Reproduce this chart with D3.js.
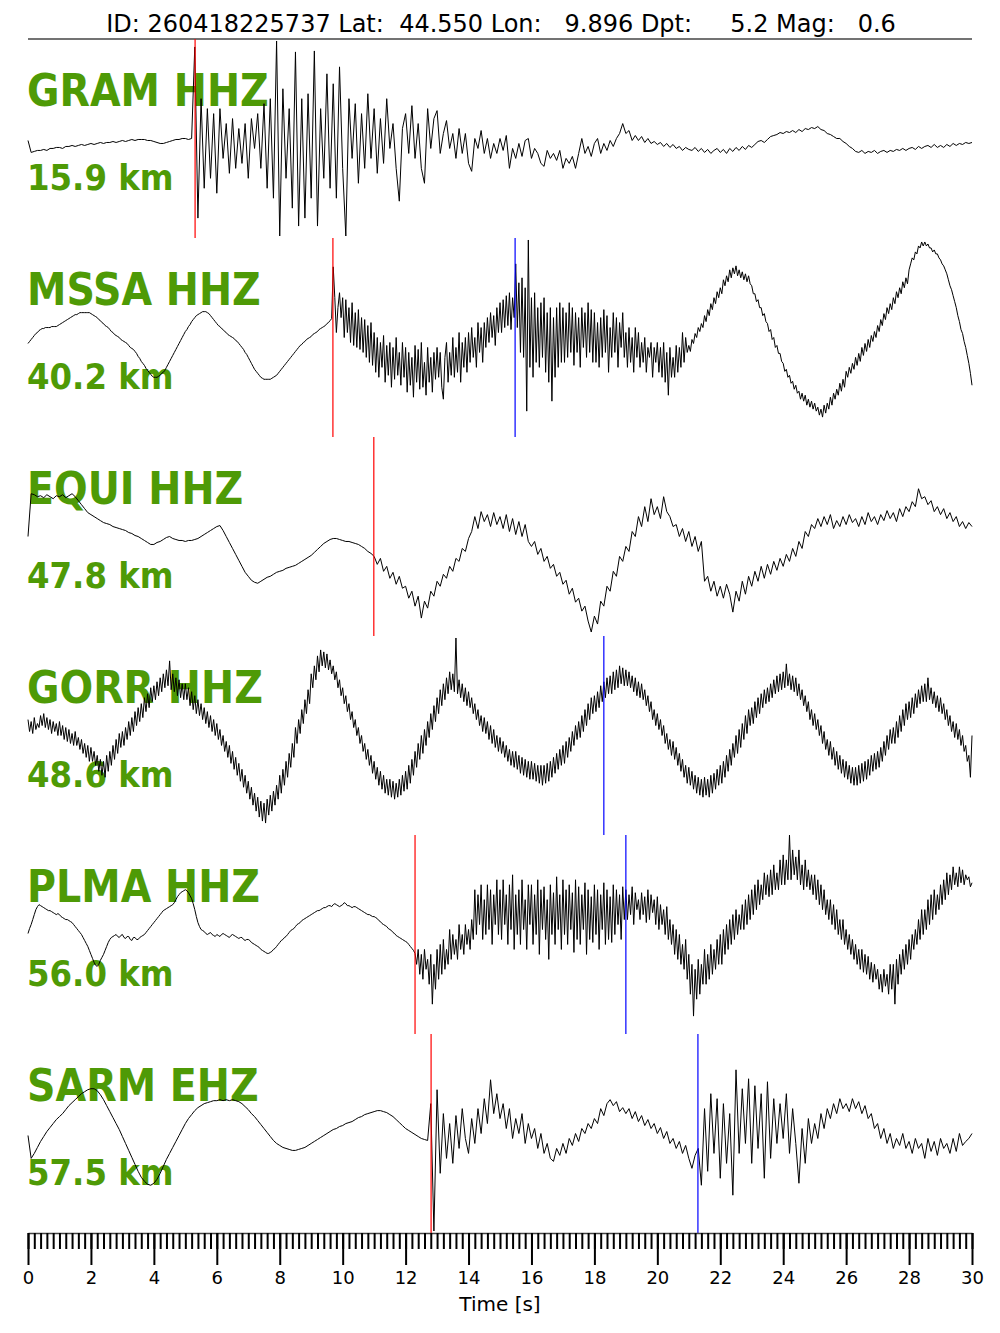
<!DOCTYPE html>
<html>
<head>
<meta charset="utf-8">
<script src="https://cdn.jsdelivr.net/npm/d3@7"></script>
<style>
body { margin: 0; background: #fff; }
text { font-family: 'DejaVu Sans', sans-serif; }
</style>
</head>
<body>
<svg id="main"></svg>
<script>
// event header
let title = 'ID: 260418225737 Lat:  44.550 Lon:   9.896 Dpt:     5.2 Mag:   0.6'

let stations = ['GRAM HHZ', 'MSSA HHZ', 'EQUI HHZ', 'GORR HHZ', 'PLMA HHZ', 'SARM EHZ']
let distances = ['15.9 km', '40.2 km', '47.8 km', '48.6 km', '56.0 km', '57.5 km']

// picks in seconds (null = no pick)
let pPicks = [5.31, 9.69, 10.99, null, 12.30, 12.81]
let sPicks = [null, 15.48, null, 18.30, 19.00, 21.29]

let majorTicks = [0, 2, 4, 6, 8, 10, 12, 14, 16, 18, 20, 22, 24, 26, 28, 30]

// normalised amplitudes (-100..100) read off the plot, evenly sampled over 0-30 s
// (0.1 s for gram/equi/sarm, 0.05 s for the noisier mssa/gorr/plma)
let gram = [-2,-14,-13,-12,-12,-11,-12,-10,-10,-9,
-9,-10,-8,-8,-7,-8,-7,-6,-7,-6,
-5,-6,-5,-4,-5,-4,-4,-3,-4,-3,
-2,-3,-2,-1,-2,-1,-1,-1,-2,-2,
-3,-4,-5,-5,-4,-3,-2,-1,-1,0,
0,-1,0,92,-80,40,-50,30,-40,25,
-55,30,-20,15,-35,20,-30,10,-25,15,
-40,20,-10,25,-30,35,-50,40,-60,98,
-98,50,-40,30,-70,87,-88,40,-80,45,
-60,88,-88,30,-40,65,-50,55,-60,72,
-30,-98,40,-20,35,-45,25,-30,45,-20,
30,-35,20,-25,40,-10,15,-30,-63,10,
25,-15,33,-20,15,-30,-45,30,-10,20,
28,-15,5,18,-10,5,-20,10,-15,5,
-25,-33,0,-10,8,-15,0,-20,-5,-15,
0,-12,3,-30,-10,-20,-5,-18,-2,0,
-20,-10,-15,-25,-28,-12,-20,-15,-22,-12,
-30,-20,-25,-18,-30,-15,0,-15,-8,-18,
-5,0,-15,-5,-12,-2,-8,0,5,15,
5,8,-2,3,-2,2,-4,0,-5,-3,
-6,-4,-8,-5,-9,-6,-10,-8,-12,-9,
-11,-12,-9,-13,-10,-14,-11,-15,-12,-10,
-14,-11,-15,-10,-13,-9,-12,-8,-11,-7,
-9,-6,-3,-2,-4,-1,2,3,4,6,
5,7,6,8,6,9,7,10,9,11,
10,12,9,8,5,4,2,0,0,-3,
-5,-8,-10,-13,-14,-12,-15,-13,-14,-12,
-15,-13,-12,-14,-12,-13,-11,-12,-10,-12,
-10,-9,-11,-8,-10,-8,-7,-9,-6,-9,
-7,-9,-6,-8,-5,-7,-5,-6,-4,-5,
-4]
let mssa = [-6,-4,-2,0,2,4,5,7,8,9,
9,10,10,10,10,11,11,11,11,12,
13,14,15,16,17,18,19,20,21,22,
23,23,24,25,25,25,25,25,25,25,
24,23,22,21,20,18,17,15,14,12,
11,10,8,6,5,3,2,1,0,-2,
-3,-4,-5,-6,-8,-10,-11,-12,-14,-16,
-19,-21,-24,-26,-28,-31,-33,-35,-37,-39,
-40,-40,-40,-39,-38,-36,-35,-33,-30,-27,
-24,-21,-18,-15,-12,-9,-6,-3,0,3,
6,8,11,13,16,18,20,22,23,24,
25,26,26,26,25,24,22,20,18,16,
14,12,11,9,8,6,5,3,2,1,
0,-1,-3,-4,-6,-8,-10,-12,-15,-17,
-20,-23,-26,-29,-32,-34,-36,-38,-40,-41,
-42,-42,-42,-42,-42,-41,-40,-39,-38,-36,
-34,-32,-30,-28,-26,-24,-22,-20,-18,-16,
-14,-12,-10,-8,-7,-5,-4,-2,-1,0,
1,3,4,5,6,8,9,10,11,12,
14,15,17,19,71,40,5,30,45,20,
40,0,38,5,30,-5,35,-8,25,-10,
28,-12,20,-15,18,-20,12,-25,15,-28,
5,-35,0,-40,-5,-30,2,-45,-8,-38,
-5,-50,-10,-42,0,-38,-15,-48,-5,-40,
-10,-55,-15,-48,-20,-60,-8,-45,-12,-52,
-5,-50,-25,-58,-10,-45,-20,-55,-15,-42,
-10,-40,-15,-50,-62,-20,-5,-45,-15,-38,
0,-40,-10,-35,5,-45,-5,-30,0,-35,
5,-25,10,-20,0,-30,15,-15,10,-25,
15,-10,20,-5,25,0,22,-8,30,5,
35,5,38,10,42,12,45,8,40,20,
74,10,55,-15,60,-20,50,-74,98,-30,
40,-40,45,-25,30,-30,35,-20,40,-35,
25,-45,30,-64,20,-40,30,-30,35,-25,
30,-25,25,-20,35,-15,30,-28,25,-15,
20,-30,30,-10,25,-20,35,-15,28,-25,
25,-25,15,-30,20,-20,28,-15,22,-35,
10,-20,25,-15,20,-30,15,-10,25,-20,
5,-30,10,-25,0,-35,10,-20,5,-30,
-5,-25,0,-35,-10,-20,-5,-40,-10,-25,
-5,-35,-10,-40,-5,-45,-15,-58,-10,-40,
-20,-40,-8,-35,-10,-30,5,-25,0,-15,
-8,-14,-2,-6,4,0,10,6,14,10,
22,16,28,22,34,28,40,34,46,40,
50,44,58,52,62,56,68,60,70,64,
72,62,68,60,66,58,64,56,62,54,
52,44,44,36,38,30,30,22,24,16,
14,6,8,-2,0,-10,-8,-16,-16,-24,
-26,-34,-32,-40,-38,-46,-44,-52,-48,-56,
-54,-62,-56,-64,-58,-68,-62,-70,-64,-72,
-66,-74,-70,-78,-72,-80,-68,-76,-66,-72,
-60,-68,-56,-62,-52,-58,-46,-54,-42,-50,
-34,-40,-30,-36,-26,-32,-20,-28,-16,-24,
-10,-18,-6,-14,-2,-10,2,-4,6,0,
12,6,18,12,24,18,30,24,34,28,
40,34,46,40,50,44,56,50,60,54,
68,74,80,78,86,84,92,90,96,92,
96,92,94,90,90,86,88,84,84,80,
78,74,72,68,64,58,52,48,42,36,
30,22,16,8,4,-4,-10,-18,-26,-36,
-48]
let equi = [0,43,42,40,41,39,42,40,38,41,
40,42,39,41,43,40,36,32,28,24,
22,20,18,16,14,13,12,10,9,8,
7,6,4,3,1,0,-2,-4,-6,-8,
-8,-6,-5,-3,-1,0,-2,-3,-4,-4,
-5,-4,-4,-3,-2,0,2,4,6,8,
10,11,6,0,-6,-12,-18,-24,-30,-36,
-40,-44,-46,-47,-45,-43,-41,-40,-38,-36,
-35,-34,-32,-31,-30,-29,-27,-25,-23,-21,
-19,-16,-13,-10,-7,-5,-3,-2,-2,-3,
-4,-5,-5,-6,-7,-8,-10,-12,-15,-17,
-20,-28,-22,-35,-30,-42,-36,-48,-40,-52,
-50,-62,-55,-70,-60,-82,-65,-72,-55,-60,
-45,-50,-38,-42,-30,-35,-22,-25,-12,-15,
-2,5,20,8,25,15,22,10,24,12,
20,8,22,5,18,2,15,0,12,-5,
-10,-5,-18,-12,-25,-20,-32,-28,-40,-36,
-48,-44,-58,-52,-66,-62,-75,-70,-85,-96,
-80,-88,-65,-70,-50,-55,-35,-40,-20,-25,
-10,-15,5,0,20,10,30,15,38,22,
30,18,40,25,20,10,12,0,8,-5,
5,-10,0,-15,-5,-45,-40,-55,-45,-60,
-50,-62,-48,-58,-76,-55,-65,-45,-58,-40,
-50,-35,-45,-30,-42,-28,-38,-25,-34,-22,
-30,-18,-25,-12,-20,-5,-12,5,0,12,
8,18,10,20,12,22,8,16,10,20,
12,22,14,18,10,20,12,24,15,20,
12,22,16,26,18,24,15,28,20,30,
25,35,30,48,38,40,32,36,25,30,
22,28,18,24,15,20,10,15,8,14,
10]
let gorr = [16,4,14,2,18,6,12,8,20,10,
22,8,18,6,16,2,14,4,12,0,
14,0,10,-4,8,-6,6,-8,2,-10,
4,-10,-2,-14,-4,-18,-8,-22,-10,-26,
-12,-26,-16,-30,-20,-36,-24,-40,-26,-42,
-20,-36,-16,-30,-10,-24,-4,-18,2,-12,
4,-10,8,-4,14,0,18,4,24,10,
28,14,32,18,38,24,42,28,48,34,
50,36,54,40,58,44,62,48,66,50,
75,46,62,44,58,40,56,38,52,36,
52,36,48,30,44,26,40,22,36,20,
32,16,28,12,24,8,20,4,16,0,
12,-4,6,-10,0,-16,-6,-22,-10,-28,
-16,-34,-22,-40,-28,-46,-34,-52,-40,-58,
-46,-64,-52,-70,-58,-76,-62,-82,-66,-86,
-68,-88,-64,-80,-60,-76,-56,-70,-50,-64,
-40,-58,-34,-50,-26,-42,-18,-32,-8,-22,
8,-8,16,2,26,12,36,22,46,32,
62,48,70,56,80,64,86,70,84,68,
82,66,76,62,70,56,64,48,56,40,
48,32,40,24,32,16,24,8,16,0,
8,-8,0,-16,-8,-24,-14,-30,-20,-38,
-26,-44,-32,-50,-36,-54,-40,-58,-44,-60,
-44,-62,-46,-64,-48,-62,-44,-60,-40,-56,
-36,-54,-30,-48,-24,-40,-16,-32,-8,-24,
0,-18,6,-10,14,-2,22,6,30,14,
38,22,46,30,52,36,58,42,64,46,
62,44,98,42,56,38,52,34,48,30,
44,28,38,22,32,16,26,10,20,4,
18,2,14,-4,10,-8,6,-12,0,-16,
-2,-18,-6,-22,-10,-26,-14,-30,-16,-32,
-16,-34,-20,-38,-22,-40,-24,-42,-26,-44,
-26,-44,-28,-46,-30,-48,-30,-50,-30,-48,
-28,-46,-26,-42,-22,-38,-18,-34,-14,-30,
-10,-28,-6,-22,-2,-16,4,-10,10,-4,
14,-2,20,4,26,10,32,16,38,22,
40,24,44,28,50,34,54,38,58,42,
60,42,64,46,66,48,70,52,68,50,
66,50,64,48,60,44,58,40,54,38,
52,36,46,30,40,24,34,16,26,10,
22,6,16,0,10,-8,2,-14,-4,-20,
-6,-24,-12,-30,-18,-36,-24,-42,-30,-48,
-32,-50,-36,-54,-40,-58,-42,-60,-44,-62,
-42,-60,-44,-62,-40,-58,-38,-54,-34,-50,
-30,-48,-26,-42,-20,-36,-14,-30,-8,-22,
0,-18,6,-12,12,-4,20,2,26,10,
28,12,34,18,38,22,42,28,46,32,
48,34,52,38,56,42,60,44,62,46,
64,48,72,50,62,46,60,44,58,40,
52,36,46,30,40,24,34,16,26,10,
22,6,16,0,10,-8,4,-14,-4,-20,
-6,-24,-12,-30,-16,-34,-20,-38,-24,-42,
-26,-44,-30,-48,-32,-50,-32,-50,-30,-48,
-28,-46,-26,-44,-24,-40,-20,-36,-18,-34,
-16,-32,-12,-26,-6,-20,0,-14,6,-8,
8,-8,14,-2,20,4,26,10,32,16,
34,18,38,22,42,28,46,32,50,34,
52,34,58,36,48,32,44,28,40,24,
38,22,32,16,26,10,20,4,14,-2,
12,-4,6,-10,0,-16,-10,-26,-20,-42,
0]
let plma = [1,6,10,15,20,25,28,30,29,28,
27,26,25,24,24,23,22,21,20,21,
20,18,17,16,15,15,14,13,12,10,
8,6,4,2,0,-3,-6,-9,-12,-16,
-20,-24,-28,-31,-32,-30,-26,-23,-20,-16,
-12,-8,-5,-3,-2,-1,0,-2,-3,-1,
0,-3,-4,-2,-2,-5,-6,-3,-3,-5,
-5,-3,-2,-1,0,2,4,6,8,10,
12,14,16,18,20,22,24,25,26,27,
28,29,30,32,35,38,40,42,43,44,
45,44,42,39,36,31,25,18,12,8,
5,4,3,1,0,1,2,0,-1,-2,
0,-1,-2,0,1,0,-1,-2,-3,-1,
0,-1,-2,-3,-4,-3,-3,-5,-6,-5,
-5,-6,-8,-9,-10,-11,-12,-13,-15,-16,
-17,-18,-19,-19,-18,-17,-15,-14,-12,-10,
-8,-6,-5,-3,-2,0,2,4,5,6,
8,10,11,12,14,15,16,17,18,19,
20,21,22,23,24,24,25,26,27,27,
28,29,29,28,30,31,30,29,28,29,
30,32,31,29,29,28,27,28,28,27,
26,25,24,23,22,21,20,20,19,18,
18,17,16,14,13,11,10,9,8,6,
5,4,2,1,-1,-2,-3,-4,-5,-6,
-7,-8,-10,-12,-14,-16,-19,-30,-15,-40,
-20,-45,-15,-35,-25,-50,-20,-70,-30,-55,
-15,-45,-10,-40,-5,-35,-15,-30,5,-25,
0,-20,-5,-25,10,-15,0,-20,10,-10,
5,-15,15,-5,45,0,40,10,50,-5,
35,0,50,5,45,-10,40,10,55,0,
45,-5,55,10,40,-10,50,5,60,-15,
40,0,45,-10,55,5,35,-15,50,10,
50,-10,40,0,55,-20,45,5,48,-5,
35,-25,50,0,42,-10,58,5,40,-15,
55,0,45,-10,50,5,42,-18,55,-5,
48,-10,40,5,52,-20,45,-5,38,-8,
50,0,45,-15,40,5,52,-10,45,-5,
38,-8,50,0,45,10,40,-5,48,15,
45,15,40,20,48,10,42,25,35,15,
42,20,38,12,45,15,40,22,35,10,
38,5,30,10,25,0,28,-5,15,-10,
10,-20,5,-25,0,-30,-10,-35,-5,-45,
-20,-60,-30,-82,-35,-65,-25,-60,-30,-50,
-15,-50,-20,-45,-10,-40,-15,-35,-5,-30,
0,-30,5,-20,10,-15,15,-10,20,-5,
25,0,20,5,30,5,35,10,40,15,
45,20,50,25,55,30,50,35,62,40,
60,38,65,40,70,45,62,45,75,50,
80,50,75,55,100,55,85,60,78,55,
85,50,70,45,75,48,65,45,60,40,
60,35,55,30,50,25,45,20,35,15,
35,10,30,5,25,0,15,-5,15,-10,
5,-15,0,-20,-5,-25,-10,-30,-15,-35,
-15,-38,-20,-40,-22,-45,-28,-48,-30,-45,
-35,-55,-40,-58,-35,-52,-40,-60,-30,-55,
-30,-70,-25,-50,-20,-40,-15,-35,-10,-30,
-5,-25,0,-15,5,-10,15,-5,25,0,
25,5,35,10,40,15,45,20,40,25,
50,30,55,35,62,40,60,45,68,50,
62,48,68,52,65,50,60,55,58,48,
52]
let sarm = [-2,-25,-20,-14,-8,-3,2,6,10,14,
17,20,24,28,31,34,37,40,42,44,
45,45,43,39,34,28,22,16,10,4,
-3,-10,-17,-24,-31,-38,-44,-48,-51,-52,
-50,-46,-40,-33,-26,-20,-14,-8,-2,4,
10,15,19,23,26,28,30,31,32,33,
33,34,33,34,33,34,33,32,30,27,
24,20,17,13,9,5,1,-3,-7,-10,
-12,-14,-15,-16,-17,-17,-16,-15,-14,-12,
-10,-8,-6,-4,-2,0,2,4,5,7,
8,10,11,12,14,16,17,19,20,21,
22,23,23,22,21,19,17,14,11,8,
5,3,1,-1,-3,-5,-6,-7,30,-98,
44,-40,20,-25,10,-30,18,-15,25,-5,
-20,15,-10,25,0,35,10,54,20,40,
15,30,5,25,-5,15,0,20,-10,10,
-5,5,-15,0,-20,-10,-25,-28,-15,-22,
-10,-20,-5,-12,0,-8,5,0,10,5,
15,10,25,18,30,34,28,32,22,26,
20,25,15,22,12,18,8,14,5,10,
0,6,-5,2,-10,-5,-15,-8,-20,-12,
-25,-35,-22,-15,-52,25,-38,40,-20,35,
-45,30,-30,20,-62,64,-20,45,-10,55,
-30,48,-15,40,-45,52,-25,35,-10,30,
-5,40,-20,25,-10,-50,5,-30,15,-10,
10,-5,20,5,25,15,30,20,35,25,
30,22,35,25,32,20,28,15,20,5,
10,-5,5,-10,0,-15,-5,-12,0,-15,
-8,-20,-5,-15,-10,-25,-5,-18,-8,-22,
-5,-15,-10,-20,-5,-18,0,-12,-8,-5,
0]
let traces = [gram, mssa, equi, gorr, plma, sarm]

let width = 1000
let height = 1333
let plotLeft = 28
let plotRight = 972
let plotTop = 39
let plotBottom = 1233
let duration = 30
let green = '#4e9a06'

let svg = d3.select('#main')
    .attr('width', width)
    .attr('height', height)

let xScale = d3.scaleLinear()
    .domain([0, duration])
    .range([plotLeft, plotRight])

let panelScale = d3.scaleBand()
    .domain(stations)
    .range([plotTop, plotBottom])

let yScale = d3.scaleLinear()
    .domain([-100, 100])
    .range([panelScale.bandwidth(), 0])

// header
svg.append('text')
    .attr('x', 501)
    .attr('y', 32)
    .attr('text-anchor', 'middle')
    .attr('font-size', 24)
    .attr('xml:space', 'preserve')
    .style('white-space', 'pre')
    .text(title)

svg.append('line')
    .attr('x1', plotLeft).attr('x2', plotRight)
    .attr('y1', plotTop).attr('y2', plotTop)
    .attr('stroke', '#444')
    .attr('stroke-width', 1.5)

stations.forEach((name, i) => {
    let g = svg.append('g')
        .attr('transform', `translate(0, ${panelScale(name)})`)

    g.append('text')
        .attr('x', plotLeft - 1)
        .attr('y', 67)
        .attr('fill', green)
        .attr('font-size', 44)
        .attr('font-weight', 'bold')
        .style('font-family', "'DejaVu Sans Condensed', 'DejaVu Sans', sans-serif")
        .style('font-stretch', 'condensed')
        .text(name)

    g.append('text')
        .attr('x', plotLeft - 1)
        .attr('y', 151)
        .attr('fill', green)
        .attr('font-size', 36)
        .attr('font-weight', 'bold')
        .style('font-family', "'DejaVu Sans Condensed', 'DejaVu Sans', sans-serif")
        .style('font-stretch', 'condensed')
        .text(distances[i])

    let samples = traces[i]
    let step = duration / (samples.length - 1)
    let line = d3.line()
        .x((d, k) => xScale(k * step))
        .y(d => yScale(d))

    g.append('path')
        .datum(samples)
        .attr('d', line)
        .attr('fill', 'none')
        .attr('stroke', 'black')
        .attr('stroke-width', 1)
        .attr('stroke-linejoin', 'round')

    let picks = [[pPicks[i], 'red'], [sPicks[i], 'blue']].filter(p => p[0] !== null)
    g.selectAll('.pick')
        .data(picks)
        .enter()
        .append('line')
        .attr('class', 'pick')
        .attr('x1', p => xScale(p[0]))
        .attr('x2', p => xScale(p[0]))
        .attr('y1', 0)
        .attr('y2', panelScale.bandwidth())
        .attr('stroke', p => p[1])
        .attr('stroke-width', 1.2)
})

// time axis
let minorAxis = d3.axisBottom(xScale)
    .tickValues(d3.range(0, duration + 0.001, 0.2))
    .tickSize(16)
    .tickSizeOuter(0)
    .tickFormat('')
let minor = svg.append('g')
    .attr('transform', `translate(0, ${plotBottom})`)
    .call(minorAxis)
minor.selectAll('.tick line').attr('stroke-width', 2)
minor.select('.domain').attr('stroke', '#444').attr('stroke-width', 1.5)

let xAxis = d3.axisBottom(xScale)
    .tickValues(majorTicks)
    .tickSize(32)
    .tickSizeOuter(0)
    .tickPadding(6)
    .tickFormat(d3.format('d'))
let major = svg.append('g')
    .attr('transform', `translate(0, ${plotBottom})`)
    .call(xAxis)
major.select('.domain').remove()
major.selectAll('.tick line').attr('stroke-width', 2)
major.selectAll('.tick text')
    .attr('font-size', 18)
    .attr('font-family', 'DejaVu Sans')
    .attr('fill', 'black')

svg.append('text')
    .attr('x', 500)
    .attr('y', 1311)
    .attr('text-anchor', 'middle')
    .attr('font-size', 20)
    .text('Time [s]')
</script>
</body>
</html>
